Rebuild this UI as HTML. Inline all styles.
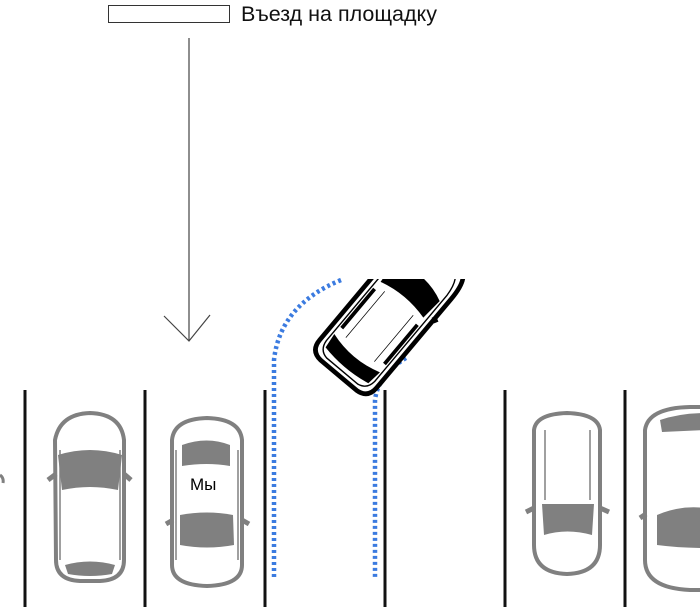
<!DOCTYPE html>
<html><head><meta charset="utf-8"><style>
html,body{margin:0;padding:0;background:#fff;}
svg{display:block;}
</style></head><body>
<svg width="700" height="607" viewBox="0 0 700 607" xmlns="http://www.w3.org/2000/svg">
<defs>
<clipPath id="clipTop"><rect x="0" y="279" width="700" height="330"/></clipPath>
</defs>

<rect x="108.5" y="5.5" width="121" height="17" fill="#fff" stroke="#333" stroke-width="1"/>
<text x="241" y="21" font-family="Liberation Sans, sans-serif" font-size="21.5" fill="#111">Въезд на площадку</text>

<line x1="189" y1="38" x2="189" y2="340" stroke="#444" stroke-width="1.2"/>
<polyline points="164,316 189,341 210,315" fill="none" stroke="#444" stroke-width="1.2"/>

<g stroke="#111" stroke-width="3">
<line x1="25" y1="390" x2="25" y2="607"/>
<line x1="145" y1="390" x2="145" y2="607"/>
<line x1="265" y1="390" x2="265" y2="607"/>
<line x1="385" y1="390" x2="385" y2="607"/>
<line x1="505" y1="390" x2="505" y2="607"/>
<line x1="625" y1="390" x2="625" y2="607"/>
</g>

<g fill="none" stroke="#3b7be0" stroke-width="4.5" stroke-dasharray="3,3">
<path d="M341,280 Q280,305 274,360 L274,578"/>
<path d="M406,358 Q378,375 375,400 L375,578"/>
</g>

<g stroke="#808080">
<path d="M55,440 Q60,414 90,413 Q121,414 124,440 L124,560 Q124,580 100,581 L80,581 Q56,580 56,560 Z" fill="#fff" stroke-width="4"/>
<path d="M58,455 Q90,445 122,455 L118,490 Q90,484 62,490 Z" fill="#808080" stroke="none"/>
<path d="M65,565 Q90,558 115,565 L112,574 Q90,578 68,574 Z" fill="#808080" stroke="none"/>
<path d="M48,480 L56,474 M131,480 L124,474" stroke-width="5"/>
<path d="M60,450 L60,560 M120,450 L120,560" stroke-width="1.5"/>
</g>

<g stroke="#808080">
<path d="M172,440 Q174,419 207,418 Q240,419 242,440 L242,565 Q242,585 207,586 Q172,585 172,565 Z" fill="#fff" stroke-width="4"/>
<path d="M182,445 Q207,436 230,445 L230,466 Q207,462 182,466 Z" fill="#808080" stroke="none"/>
<path d="M180,515 Q207,510 233,515 L234,545 Q207,550 180,545 Z" fill="#808080" stroke="none"/>
<path d="M166,524 L173,520 M249,524 L242,520" stroke-width="5"/>
<path d="M176,450 L176,560 M238,450 L238,560" stroke-width="1.5"/>
</g>
<text x="190" y="490" font-family="Liberation Sans, sans-serif" font-size="17" fill="#000">Мы</text>

<g stroke="#808080">
<path d="M534,430 Q536,414 567,413 Q598,414 600,430 L600,545 Q600,573 567,574 Q534,573 534,545 Z" fill="#fff" stroke-width="4"/>
<path d="M542,504 L594,504 L592,535 Q567,528 544,535 Z" fill="#808080" stroke="none"/>
<path d="M526,512 L534,508 M609,512 L600,508" stroke-width="5"/>
<path d="M545,430 L545,500 M590,430 L590,500" stroke-width="1.5"/>
</g>

<g stroke="#808080">
<path d="M645,430 Q648,408 690,407 L705,407 L705,590 L690,590 Q645,588 645,560 Z" fill="#fff" stroke-width="4"/>
<path d="M660,420 Q680,413 705,413 L705,430 L662,432 Z" fill="#808080" stroke="none"/>
<path d="M657,515 Q680,505 705,508 L705,548 Q680,548 657,545 Z" fill="#808080" stroke="none"/>
<path d="M640,518 L646,514" stroke-width="5"/>
</g>
<path d="M0,475 Q4,478 3,483" fill="none" stroke="#808080" stroke-width="3"/>

<g clip-path="url(#clipTop)">
<g transform="translate(390,314) rotate(40) scale(0.93)" stroke="#000">
  <path d="M-30,-85 Q0,-90 30,-85 Q40,-80 40,-55 L40,70 Q40,85 25,86 L-25,86 Q-40,85 -40,70 L-40,-55 Q-40,-80 -30,-85 Z" fill="#fff" stroke-width="5"/>
  <path d="M-26,-78 Q0,-83 26,-78 Q33,-72 34,-55 L34,66 Q33,78 22,80 L-22,80 Q-33,78 -34,66 L-34,-55 Q-33,-72 -26,-78 Z" fill="none" stroke-width="1.5"/>
  <path d="M-32,-45 Q0,-60 32,-45 L30,-20 Q0,-28 -30,-20 Z" fill="#000" stroke="none"/>
  <path d="M-32,55 Q0,65 32,55 L30,72 Q0,78 -30,72 Z" fill="#000" stroke="none"/>
  <path d="M-30,-10 L-30,45 M30,-10 L30,45" stroke-width="4"/>
  <path d="M-20,-15 L-20,50 M20,-15 L20,50" stroke-width="0.8"/>
  <path d="M44,-25 L38,-28" stroke-width="5"/>
</g>
</g>
</svg>
</body></html>
